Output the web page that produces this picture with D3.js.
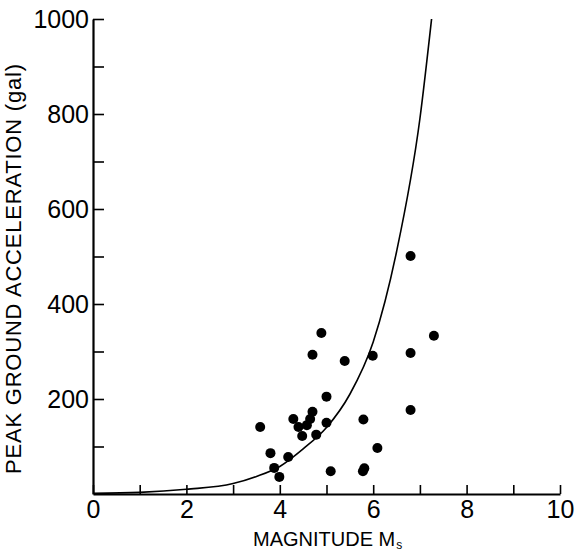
<!DOCTYPE html>
<html>
<head>
<meta charset="utf-8">
<script src="https://cdn.jsdelivr.net/npm/d3@7"></script>
<style>
  body { margin: 0; background: #fff; }
  text { font-family: "Liberation Sans", Arial, sans-serif; fill: #000; }
</style>
</head>
<body>
<svg id="chart" width="575" height="552"></svg>
<script>
// observed events: magnitude Ms vs peak ground acceleration (gal)
const magnitude = [3.58, 3.80, 3.88, 3.99, 4.18, 4.29, 4.40, 4.48, 4.58, 4.65, 4.70, 4.78,
                   4.70, 4.89, 5.00, 5.00, 5.09, 5.39, 5.99, 5.79, 5.78, 5.81, 6.09,
                   6.80, 6.80, 6.80, 7.30];
const pga = [141, 86, 55, 36, 78, 158, 141, 122, 145, 158, 173, 125,
             293, 339, 205, 150, 48, 280, 291, 157, 48, 54, 97,
             501, 297, 177, 333];

// curve
const curveM   = [0, 1, 2, 3, 3.5, 4, 4.5, 5, 5.5, 6, 6.5, 7, 7.25];
const curvePga = [1.5, 3.5, 10, 22, 37, 58, 95, 140, 210, 320, 510, 790, 1000];

const xTicks = [0, 1, 2, 3, 4, 5, 6, 7, 8, 9, 10];
const xLabels = [0, 2, 4, 6, 8, 10];
const yTicks = [100, 200, 300, 400, 500, 600, 700, 800, 900, 1000];
const yLabels = [200, 400, 600, 800, 1000];

const svg = d3.select("#chart");

const x = d3.scaleLinear().domain([0, 10]).range([93, 560]);
const y = d3.scaleLinear().domain([0, 1000]).range([494, 19]);

// x axis: ticks pointing up, labels only on even numbers
const xAxis = svg.append("g").attr("transform", "translate(0,494)");
xAxis.call(d3.axisBottom(x).tickValues(xTicks).tickSizeInner(-9).tickSizeOuter(0).tickFormat(""));
xAxis.append("g").call(d3.axisBottom(x).tickValues(xLabels).tickSize(0).tickPadding(6).tickFormat(d3.format("d")))
  .call(g => g.select(".domain").remove());

// y axis: ticks pointing right
const yAxis = svg.append("g").attr("transform", "translate(93,0)");
yAxis.call(d3.axisLeft(y).tickValues(yTicks).tickSizeInner(-11).tickSizeOuter(0).tickFormat(""));
yAxis.append("g").call(d3.axisLeft(y).tickValues(yLabels).tickSize(0).tickPadding(4).tickFormat(d3.format("d")))
  .call(g => g.select(".domain").remove());

svg.selectAll(".domain").attr("stroke", "#000").attr("stroke-width", 2.2);
svg.selectAll(".tick line").attr("stroke", "#000").attr("stroke-width", 1.6);
svg.selectAll(".tick text").style("font-size", "25px").attr("fill", "#000");

// axis titles
svg.append("text")
  .attr("transform", "translate(21,269) rotate(-90)")
  .attr("text-anchor", "middle")
  .attr("textLength", 410)
  .attr("lengthAdjust", "spacing")
  .style("font-size", "22px")
  .text("PEAK GROUND ACCELERATION (gal)");

const xTitle = svg.append("text")
  .attr("x", 253)
  .attr("y", 546)
  .style("font-size", "20px");
xTitle.append("tspan").text("MAGNITUDE M");
xTitle.append("tspan")
  .attr("dx", 1)
  .attr("dy", 3)
  .style("font-size", "12px")
  .text("s");

// curve
const line = d3.line()
  .x((d, i) => x(curveM[i]))
  .y(d => y(d))
  .curve(d3.curveMonotoneX);

svg.append("path")
  .datum(curvePga)
  .attr("d", line)
  .attr("fill", "none")
  .attr("stroke", "#000")
  .attr("stroke-width", 1.6);

// points
svg.append("g").selectAll("circle")
  .data(pga)
  .enter().append("circle")
  .attr("cx", (d, i) => x(magnitude[i]))
  .attr("cy", d => y(d))
  .attr("r", 5)
  .attr("fill", "#000");
</script>
</body>
</html>
